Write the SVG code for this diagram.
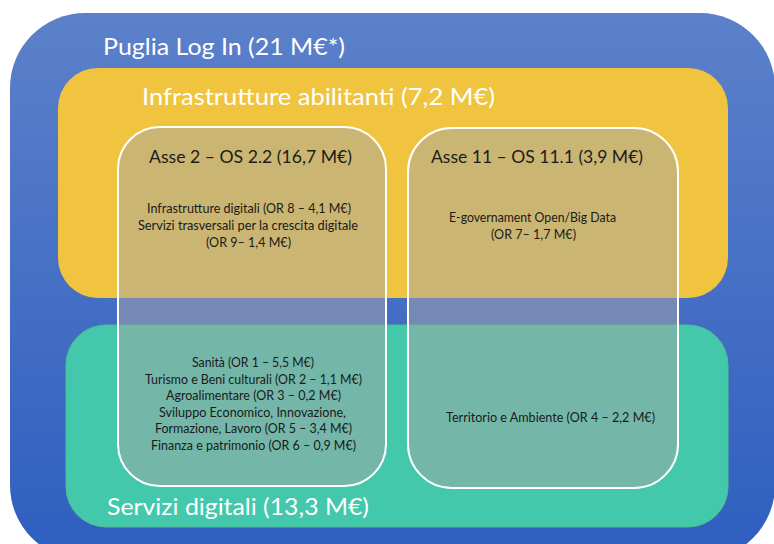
<svg xmlns="http://www.w3.org/2000/svg" width="774" height="544" viewBox="0 0 774 544">
  <defs>
    <linearGradient id="blueGrad" x1="0" y1="0" x2="0" y2="1">
      <stop offset="0" stop-color="#5c81ca"/>
      <stop offset="1" stop-color="#2e5ebf"/>
    </linearGradient>
    <style>
      .title { font-family: Lato, "Open Sans", "Liberation Sans", sans-serif; fill: #ffffff; font-size: 24px; }
      .head { font-family: Lato, "Open Sans", "Liberation Sans", sans-serif; fill: #1c1c1c; font-size: 18px; }
      .body { font-family: Lato, "Open Sans", "Liberation Sans", sans-serif; fill: #1a1a1a; font-size: 12.5px; text-anchor: middle; }
      .inner { fill: #a5a5a5; fill-opacity: 0.5; stroke: #ffffff; stroke-width: 2; }
    </style>
  </defs>
  <rect width="774" height="544" fill="#ffffff"/>

  <g id="puglia-log-in">
    <rect x="10" y="13" width="765" height="547" rx="75" ry="75" fill="url(#blueGrad)"/>
    <text class="title" x="103" y="55" textLength="242" lengthAdjust="spacingAndGlyphs">Puglia Log In (21 M€*)</text>
  </g>

  <g id="infrastrutture-abilitanti">
    <rect x="58" y="68" width="670" height="230" rx="40" ry="40" fill="#f0c43e"/>
    <text class="title" x="142" y="105" textLength="353" lengthAdjust="spacingAndGlyphs">Infrastrutture abilitanti (7,2 M€)</text>
  </g>

  <g id="servizi-digitali">
    <rect x="66" y="325" width="662" height="202" rx="40" ry="40" fill="#43c8ac" stroke="#4fbf8f" stroke-width="1"/>
    <text class="title" x="107" y="515" textLength="262" lengthAdjust="spacingAndGlyphs">Servizi digitali (13,3 M€)</text>
  </g>

  <g id="asse-2">
    <rect class="inner" x="118" y="127" width="268" height="359" rx="42" ry="42"/>
    <text class="head" x="149" y="163" textLength="203" lengthAdjust="spacingAndGlyphs">Asse 2 – OS 2.2 (16,7 M€)</text>
    <text class="body" x="249" y="213" textLength="204" lengthAdjust="spacingAndGlyphs">Infrastrutture digitali (OR 8 – 4,1 M€)</text>
    <text class="body" x="248" y="230" textLength="220" lengthAdjust="spacingAndGlyphs">Servizi trasversali per la crescita digitale</text>
    <text class="body" x="248.5" y="247" textLength="85" lengthAdjust="spacingAndGlyphs">(OR 9– 1,4 M€)</text>
    <text class="body" x="253" y="367" textLength="122" lengthAdjust="spacingAndGlyphs">Sanità (OR 1 – 5,5 M€)</text>
    <text class="body" x="253.5" y="383.5" textLength="217" lengthAdjust="spacingAndGlyphs">Turismo e Beni culturali (OR 2 – 1,1 M€)</text>
    <text class="body" x="253.5" y="400" textLength="175" lengthAdjust="spacingAndGlyphs">Agroalimentare (OR 3 – 0,2 M€)</text>
    <text class="body" x="252.5" y="416.5" textLength="187" lengthAdjust="spacingAndGlyphs">Sviluppo Economico, Innovazione,</text>
    <text class="body" x="253.5" y="433" textLength="197" lengthAdjust="spacingAndGlyphs">Formazione, Lavoro (OR 5 – 3,4 M€)</text>
    <text class="body" x="253.5" y="449.5" textLength="205" lengthAdjust="spacingAndGlyphs">Finanza e patrimonio (OR 6 – 0,9 M€)</text>
  </g>

  <g id="asse-11">
    <rect class="inner" x="408" y="128" width="270" height="360" rx="44" ry="44"/>
    <text class="head" x="431" y="163" textLength="212" lengthAdjust="spacingAndGlyphs">Asse 11 – OS 11.1 (3,9 M€)</text>
    <text class="body" x="532.5" y="222" textLength="167" lengthAdjust="spacingAndGlyphs">E-governament Open/Big Data</text>
    <text class="body" x="533.5" y="239" textLength="85" lengthAdjust="spacingAndGlyphs">(OR 7– 1,7 M€)</text>
    <text class="body" x="550.5" y="422" textLength="209" lengthAdjust="spacingAndGlyphs">Territorio e Ambiente (OR 4 – 2,2 M€)</text>
  </g>

  <g id="connectors"></g>
</svg>
